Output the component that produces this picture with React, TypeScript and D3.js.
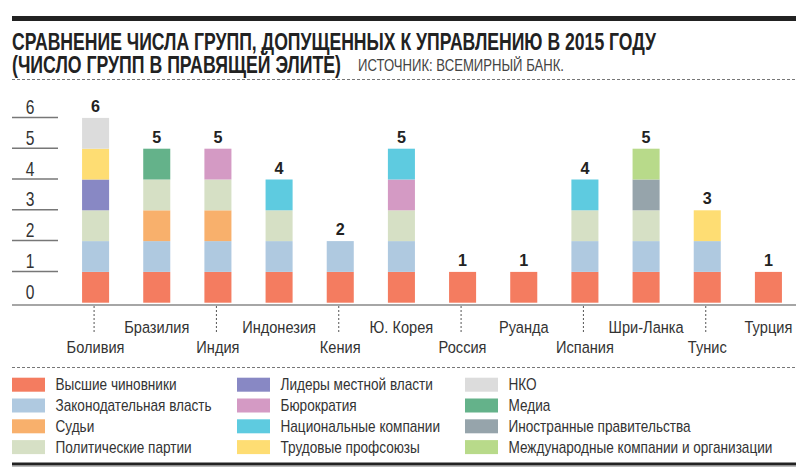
import * as d3 from "d3";

const FONT = "'Liberation Sans', Arial, sans-serif";

const countries = [
  "Боливия", "Бразилия", "Индия", "Индонезия", "Кения", "Ю. Корея",
  "Россия", "Руанда", "Испания", "Шри-Ланка", "Тунис", "Турция",
];

const groups = [
  "Высшие чиновники", "Законодательная власть", "Судьи", "Политические партии",
  "Лидеры местной власти", "Бюрократия", "Национальные компании", "Трудовые профсоюзы",
  "НКО", "Медиа", "Иностранные правительства", "Международные компании и организации",
];

const groupColors = [
  "#f47c60", "#afc9e0", "#f8b06c", "#d6e0c5",
  "#8888c4", "#d49ac4", "#5ecbe0", "#fedd73",
  "#dcdcdc", "#64b28a", "#96a4ab", "#b8da8a",
];

// 1 = группа входит в правящую элиту страны (в порядке стран)
const topOfficials   = [1, 1, 1, 1, 1, 1, 1, 1, 1, 1, 1, 1];
const legislature    = [1, 1, 1, 1, 1, 1, 0, 0, 1, 1, 1, 0];
const judges         = [0, 1, 1, 0, 0, 0, 0, 0, 0, 0, 0, 0];
const parties        = [1, 1, 1, 1, 0, 1, 0, 0, 1, 1, 0, 0];
const localLeaders   = [1, 0, 0, 0, 0, 0, 0, 0, 0, 0, 0, 0];
const bureaucracy    = [0, 0, 1, 0, 0, 1, 0, 0, 0, 0, 0, 0];
const stateCompanies = [0, 0, 0, 1, 0, 1, 0, 0, 1, 0, 0, 0];
const unions         = [1, 0, 0, 0, 0, 0, 0, 0, 0, 0, 1, 0];
const ngo            = [1, 0, 0, 0, 0, 0, 0, 0, 0, 0, 0, 0];
const media          = [0, 1, 0, 0, 0, 0, 0, 0, 0, 0, 0, 0];
const foreignGovs    = [0, 0, 0, 0, 0, 0, 0, 0, 0, 1, 0, 0];
const intlCompanies  = [0, 0, 0, 0, 0, 0, 0, 0, 0, 1, 0, 0];

const series = [
  topOfficials, legislature, judges, parties, localLeaders, bureaucracy,
  stateCompanies, unions, ngo, media, foreignGovs, intlCompanies,
];

const yTicks = [0, 1, 2, 3, 4, 5, 6];

const W = 796;
const H = 475;

// narrow text: no condensed face is installed, so squeeze horizontally
function NText({ x, y, sx = 0.85, children, ...rest }: any) {
  return (
    <text transform={`translate(${x},${y}) scale(${sx},1)`} {...rest}>
      {children}
    </text>
  );
}

export default function App() {
  const table = countries.map((c, i) => {
    const row: Record<string, number | string> = { country: c };
    groups.forEach((g, k) => (row[g] = series[k][i]));
    return row;
  });
  const stacked = d3.stack<any>().keys(groups)(table);
  const totals = countries.map((_, i) => d3.sum(series, (s) => s[i]));

  const x = d3.scaleBand<string>()
    .domain(countries)
    .range([65, 799])
    .paddingInner(0.558)
    .paddingOuter(0.279);
  const y = d3.scaleLinear().domain([0, 6]).range([302.7, 117.9]);
  const baseY = 305;

  return (
    <svg width={W} height={H} style={{ position: "absolute", left: 0, top: 0, display: "block", background: "#fff" }} fontFamily={FONT}>
      {/* header */}
      <rect x={12} y={16} width={784} height={5} fill="#222" />
      <text x={12} y={50} fontSize={24} fontWeight="bold" fill="#222" textLength={644} lengthAdjust="spacingAndGlyphs">
        СРАВНЕНИЕ ЧИСЛА ГРУПП, ДОПУЩЕННЫХ К УПРАВЛЕНИЮ В 2015 ГОДУ
      </text>
      <text x={12} y={72.5} fontSize={24} fontWeight="bold" fill="#222" textLength={329} lengthAdjust="spacingAndGlyphs">
        (ЧИСЛО ГРУПП В ПРАВЯЩЕЙ ЭЛИТЕ)
      </text>
      <text x={358} y={71} fontSize={16} fill="#444" textLength={206} lengthAdjust="spacingAndGlyphs">
        ИСТОЧНИК: ВСЕМИРНЫЙ БАНК.
      </text>
      <line x1={12} x2={796} y1={79.5} y2={79.5} stroke="#777" strokeDasharray="3,2" />

      {/* y axis */}
      {yTicks.map((t) => (
        <g key={t}>
          {t > 0 && <line x1={12} x2={58} y1={y(t) - 0.5} y2={y(t) - 0.5} stroke="#777" strokeWidth={1.5} />}
          <NText x={30} y={y(t) - 4} sx={0.78} textAnchor="middle" fontSize={20} fill="#333">{t}</NText>
        </g>
      ))}

      {/* bars */}
      {stacked.map((layer, k) => (
        <g key={layer.key} fill={groupColors[k]}>
          {layer.map((d, i) =>
            d[1] > d[0] ? (
              <rect key={i} x={x(countries[i])} y={y(d[1])} width={x.bandwidth()} height={y(d[0]) - y(d[1])} />
            ) : null
          )}
        </g>
      ))}
      {countries.map((c, i) => (
        <NText key={c} x={x(c)! + x.bandwidth() / 2} y={y(totals[i]) - 6} sx={0.95} textAnchor="middle" fontSize={17} fontWeight="bold" fill="#222">
          {totals[i]}
        </NText>
      ))}

      {/* x axis */}
      <line x1={12} x2={796} y1={baseY} y2={baseY} stroke="#888" strokeWidth={1.5} />
      {countries.map((c, i) => {
        const cx = x(c)! + x.bandwidth() / 2;
        const low = i % 2 === 0;
        return (
          <g key={c}>
            {low && <line x1={cx - 1.5} x2={cx - 1.5} y1={baseY + 1} y2={333} stroke="#555" strokeDasharray="2,2" />}
            <NText x={cx} y={low ? 353 : 332.5} sx={0.86} textAnchor="middle" fontSize={17} fill="#333">{c}</NText>
          </g>
        );
      })}
      <line x1={12} x2={796} y1={367.5} y2={367.5} stroke="#777" strokeDasharray="3,2" />

      {/* legend */}
      {groups.map((g, k) => {
        const col = Math.floor(k / 4);
        const row = k % 4;
        const lx = [12, 237, 465][col];
        const ly = 377.7 + row * 20.8;
        return (
          <g key={g}>
            <rect x={lx} y={ly} width={33} height={14} fill={groupColors[k]} />
            <NText x={lx + 43.5} y={ly + 12.5} sx={0.85} fontSize={16} fill="#333">{g}</NText>
          </g>
        );
      })}
      <rect x={12} y={462.5} width={784} height={3} fill="#222" />
      <line x1={12} x2={796} y1={466.5} y2={466.5} stroke="#bbb" strokeWidth={1} />
    </svg>
  );
}
